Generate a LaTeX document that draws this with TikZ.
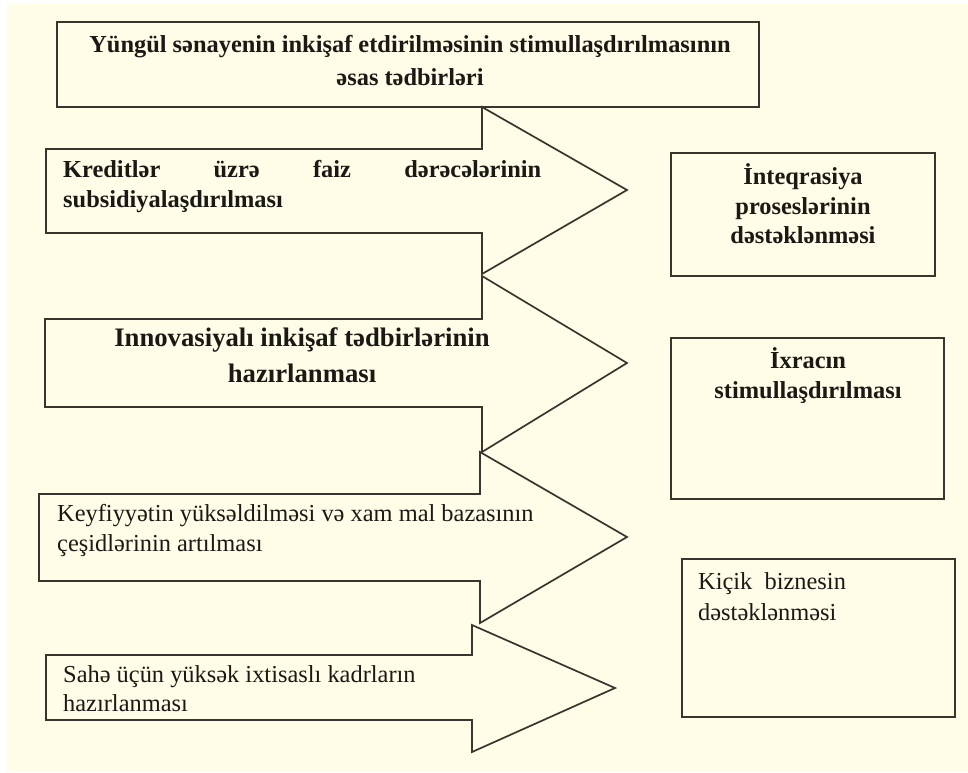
\documentclass[tikz,border=0pt]{standalone}
\usepackage{fontspec}
\setmainfont{Liberation Serif}
\definecolor{bgc}{RGB}{255,253,232}
\definecolor{linec}{RGB}{58,52,46}
\definecolor{txtc}{RGB}{28,24,20}
\begin{document}
\begin{tikzpicture}[x=1pt,y=-1pt,
  shp/.style={draw=linec, line width=1.7pt, fill=bgc, line join=miter},
  btxt/.style={inner sep=0pt, anchor=base, text=txtc, font=\fontsize{24.4}{28}\selectfont\bfseries},
  btxtl/.style={btxt, anchor=base west},
  rtxtl/.style={inner sep=0pt, anchor=base west, text=txtc, font=\fontsize{24.4}{28}\selectfont}]
\useasboundingbox (0,0) rectangle (968,772);
\fill[white] (0,0) rectangle (968,772);
\fill[bgc] (7,3) rectangle (968,772);
% top box
\draw[shp] (57,22) rectangle (759,107);
\node[btxt] (t1) at (410,52) {Yüngül sənayenin inkişaf etdirilməsinin stimullaşdırılmasının};
\node[btxt] (t2) at (410,85) {əsas tədbirləri};
% arrows
\draw[shp] (46,149) -- (482,149) -- (482,107) -- (627,190) -- (482,274) -- (482,233) -- (46,233) -- cycle;
\draw[shp] (45,319) -- (482,319) -- (482,276) -- (627,363) -- (482,452) -- (482,407) -- (45,407) -- cycle;
\draw[shp] (39,494) -- (480,494) -- (480,452) -- (627,537) -- (480,623) -- (480,581) -- (39,581) -- cycle;
\draw[shp] (46,655) -- (472,655) -- (472,625) -- (615,688) -- (472,752) -- (472,720) -- (46,720) -- cycle;
\node[btxtl] (a1) at (63,177) {\makebox[478pt][s]{Kreditlər üzrə faiz dərəcələrinin}};
\node[btxtl] (a1b) at (63,207) {subsidiyalaşdırılması};
\node[btxt, font=\fontsize{26.7}{30}\selectfont\bfseries] (a2) at (302,346) {Innovasiyalı inkişaf tədbirlərinin};
\node[btxt, font=\fontsize{26.7}{30}\selectfont\bfseries] (a2b) at (302,382) {hazırlanması};
\node[rtxtl] (a3) at (57,521) {Keyfiyyətin yüksəldilməsi və xam mal bazasının};
\node[rtxtl] (a3b) at (57,551) {çeşidlərinin artılması};
\node[rtxtl] (a4) at (63,682) {Sahə üçün yüksək ixtisaslı kadrların};
\node[rtxtl] (a4b) at (63,711) {hazırlanması};
% right boxes
\draw[shp] (671,153) rectangle (935,276);
\node[btxt] (b1) at (803,184) {İnteqrasiya};
\node[btxt] (b1b) at (803,214) {proseslərinin};
\node[btxt] (b1c) at (803,243) {dəstəklənməsi};
\draw[shp] (671,338) rectangle (944,499);
\node[btxt] (b2) at (808,368) {İxracın};
\node[btxt] (b2b) at (808,398) {stimullaşdırılması};
\draw[shp] (682,559) rectangle (955,717);
\node[rtxtl] (b3) at (698,589) {Kiçik\ \ biznesin};
\node[rtxtl] (b3b) at (698,620) {dəstəklənməsi};
\end{tikzpicture}
\end{document}
